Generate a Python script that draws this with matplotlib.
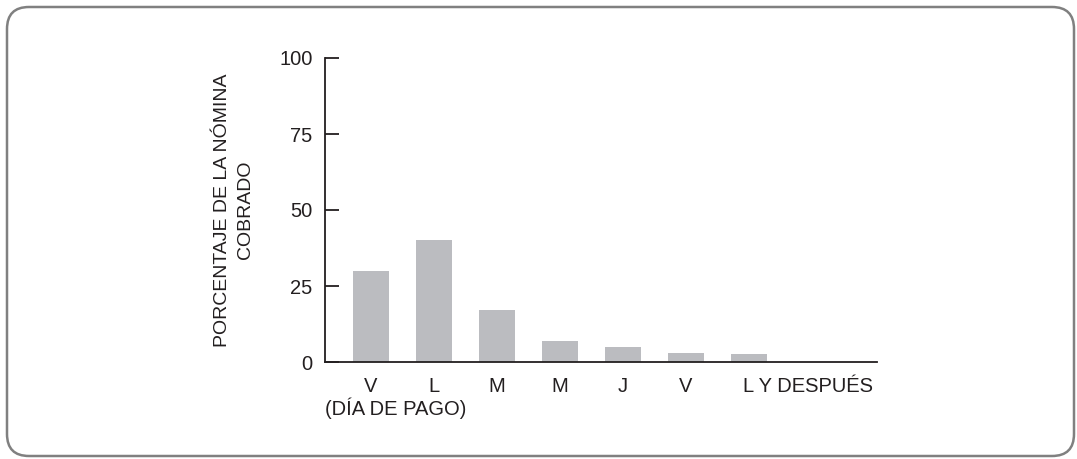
import matplotlib.pyplot as plt
from matplotlib.patches import FancyBboxPatch
from matplotlib.transforms import IdentityTransform

# === DATA ===
DAYS = ["V", "L", "M", "M", "J", "V", "L Y DESPUÉS"]
PERCENT_COLLECTED = [30, 40, 17, 7, 5, 3, 2.5]
Y_TICKS = [0, 25, 50, 75, 100]

INK = "#231f20"
BAR_COLOR = "#bbbcc0"
FS = 14.5

plt.rcParams["font.family"] = ["Liberation Sans", "DejaVu Sans"]

fig = plt.figure(figsize=(10.77, 4.59), dpi=100)

# rounded frame around the whole figure (pixel coordinates)
frame = FancyBboxPatch(
    (7, 3), 1067, 449,
    boxstyle="round,pad=0,rounding_size=22",
    transform=IdentityTransform(), facecolor="none", edgecolor="#808080",
    linewidth=1.8, zorder=-1,
)
fig.patches.append(frame)

ax = fig.add_axes([325 / 1077, 97 / 459, 552 / 1077, 304 / 459])
ax.set_facecolor("none")

x = list(range(len(DAYS)))
ax.bar(x, PERCENT_COLLECTED, width=0.57, color=BAR_COLOR)

ax.set_xlim(-0.73, 8.03)
ax.set_ylim(0, 100)

for side in ["top", "right"]:
    ax.spines[side].set_visible(False)
for side in ["left", "bottom"]:
    ax.spines[side].set_color(INK)
    ax.spines[side].set_linewidth(1.3)

ax.set_yticks(Y_TICKS)
ax.tick_params(axis="y", direction="in", length=10, width=1.3, color=INK,
               labelsize=FS, labelcolor=INK, pad=9)

# last label is left-aligned, starting just left of its bar centre
tick_pos = x[:-1] + [x[-1] - 0.1]
ax.set_xticks(tick_pos)
ax.set_xticklabels(DAYS)
ax.tick_params(axis="x", length=0, labelsize=FS, labelcolor=INK, pad=11)
ax.get_xticklabels()[-1].set_horizontalalignment("left")

ax.set_ylabel("PORCENTAJE DE LA NÓMINA\nCOBRADO", fontsize=14, color=INK,
              linespacing=1.45, labelpad=18)

ax.text(0.0, -0.118, "(DÍA DE PAGO)", transform=ax.transAxes, ha="left",
        va="top", fontsize=FS, color=INK)

fig.savefig("out.png", dpi=100)
